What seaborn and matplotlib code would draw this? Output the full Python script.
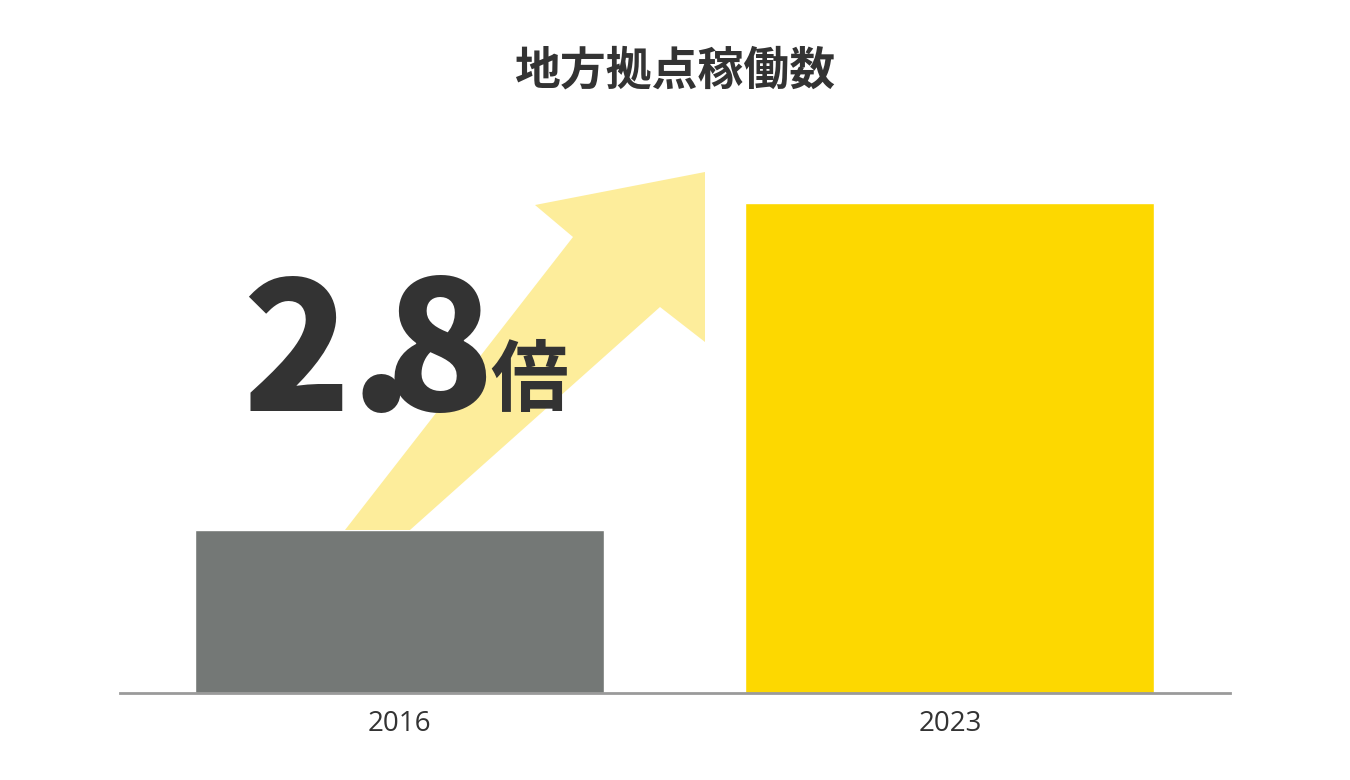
import matplotlib
matplotlib.use("Agg")
import matplotlib.pyplot as plt
import seaborn as sns
import pandas as pd
from matplotlib.patches import Polygon

years = ["2016", "2023"]
values = [163, 490]
colors = ["#747876", "#FDD800"]
title = "地方拠点稼働数"
ratio_parts = ["2", ".", "8"]
ratio_unit = "倍"

sns.set_theme(style="white")
plt.rcParams["font.family"] = ["Noto Sans CJK JP", "DejaVu Sans"]

fig = plt.figure(figsize=(13.5, 7.8), dpi=100)
ax = fig.add_axes([120 / 1350, 1 - 693 / 780, 1110 / 1350, 593 / 780])

# arrow behind bars, in figure pixel coords
pts = [(345, 530), (573, 237), (535, 205), (705, 172), (705, 342), (660, 307), (410, 530)]
arrow = Polygon([(x / 1350, 1 - y / 780) for x, y in pts], closed=True,
                transform=fig.transFigure, facecolor="#FDED9B", edgecolor="none", zorder=0)
fig.patches.append(arrow)

df = pd.DataFrame({"year": years, "value": values})
sns.barplot(data=df, x="year", y="value", hue="year", palette=colors,
            width=0.743, legend=False, ax=ax, saturation=1)
ax.patch.set_alpha(0)
ax.set_xlim(-0.508, 1.509)
ax.set_ylim(0, 593)
ax.set_xlabel("")
ax.set_ylabel("")
ax.set_yticks([])
for s in ["top", "left", "right"]:
    ax.spines[s].set_visible(False)
ax.spines["bottom"].set_color("#9a9a9a")
ax.spines["bottom"].set_linewidth(2)
ax.tick_params(axis="x", length=0, pad=12, labelsize=20, labelcolor="#333333")
for lbl in ax.get_xticklabels():
    lbl.set_family(["Open Sans", "DejaVu Sans"])

fig.text(0.5, 1 - 72 / 780, title, ha="center", va="center", fontsize=33,
         fontweight="bold", color="#333333")
# big "2.8" set glyph by glyph for tight spacing
for part, px in zip(ratio_parts, [242, 350, 386]):
    fig.text(px / 1350, 1 - 411 / 780, part, ha="left", va="baseline", fontsize=128,
             fontweight="black", color="#333333")
fig.text(490 / 1350, 1 - 405 / 780, ratio_unit, ha="left", va="baseline", fontsize=56,
         fontweight="bold", color="#333333")

fig.savefig("out.png", dpi=100)
